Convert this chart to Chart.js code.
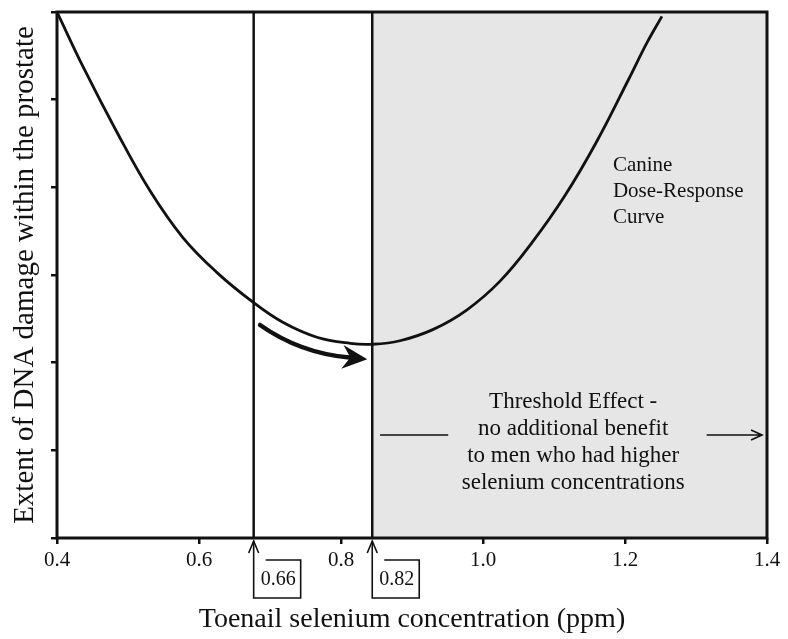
<!DOCTYPE html>
<html lang="en">
<head>
<meta charset="UTF-8">
<title>Canine dose-response curve</title>
<script src="https://cdn.jsdelivr.net/npm/chart.js@4.4.1/dist/chart.umd.min.js"></script>
<style>
  body { margin: 0; background: #fff; }
  .wrap { position: relative; width: 788px; height: 639px; }
</style>
</head>
<body>
<div class="wrap"><canvas id="chart"></canvas></div>
<script>
// curve (x = ppm, y = damage, arbitrary 0-6 units)
const curveX = [0.400, 0.437, 0.485, 0.531, 0.577, 0.625, 0.676, 0.718, 0.766, 0.813, 0.845, 0.883, 0.930, 0.977, 1.024, 1.070, 1.115, 1.160, 1.205, 1.231, 1.252];
const curveY = [6.00, 5.37, 4.62, 3.96, 3.43, 3.03, 2.69, 2.46, 2.29, 2.22, 2.21, 2.25, 2.38, 2.60, 2.93, 3.38, 3.90, 4.52, 5.23, 5.65, 5.95];

const xTickValues = [0.4, 0.6, 0.8, 1.0, 1.2, 1.4];
const yTickValues = [0, 1, 2, 3, 4, 5, 6];

// vertical marker lines and their boxed labels
const markerX = [0.677, 0.844];
const markerLabels = ['0.66', '0.82'];
const shadeFrom = 0.844;

const canineText = ['Canine', 'Dose-Response', 'Curve'];
const thresholdText = ['Threshold Effect -', 'no additional benefit', 'to men who had higher', 'selenium concentrations'];

const SERIF = '"Liberation Serif", "Times New Roman", serif';
const ink = '#111';

// shading, marker lines, frame and the annotations
const overlay = {
  id: 'overlay',
  beforeDatasetsDraw(chart) {
    const { ctx, chartArea: a, scales: { x } } = chart;
    ctx.save();
    const sx = x.getPixelForValue(shadeFrom);
    ctx.fillStyle = '#e6e6e6';
    ctx.fillRect(sx, a.top, a.right - sx, a.bottom - a.top);
    ctx.strokeStyle = ink;
    ctx.lineWidth = 2.5;
    markerX.forEach(v => {
      const px = x.getPixelForValue(v);
      ctx.beginPath();
      ctx.moveTo(px, a.top);
      ctx.lineTo(px, a.bottom);
      ctx.stroke();
    });
    ctx.restore();
  },
  afterDatasetsDraw(chart) {
    const { ctx, chartArea: a, scales: { x, y } } = chart;
    ctx.save();
    ctx.strokeStyle = ink;
    ctx.fillStyle = ink;

    // frame
    ctx.lineWidth = 3;
    ctx.strokeRect(a.left, a.top, a.right - a.left, a.bottom - a.top);

    // arrows up to the axis + open boxes with values
    ctx.lineWidth = 1.6;
    ctx.font = '20px ' + SERIF;
    ctx.textAlign = 'center';
    ctx.textBaseline = 'middle';
    markerX.forEach((v, i) => {
      const px = x.getPixelForValue(v);
      const y0 = a.bottom + 3, y1 = a.bottom + 60, bt = a.bottom + 22, bw = 47;
      ctx.beginPath();
      ctx.moveTo(px, y0);
      ctx.lineTo(px, y1);
      ctx.lineTo(px + bw, y1);
      ctx.lineTo(px + bw, bt);
      ctx.lineTo(px + 12, bt);
      ctx.stroke();
      ctx.beginPath();
      ctx.moveTo(px - 5, y0 + 12);
      ctx.lineTo(px, y0);
      ctx.lineTo(px + 5, y0 + 12);
      ctx.stroke();
      ctx.fillText(markerLabels[i], px + bw / 2 + 1, (bt + y1) / 2 + 1);
    });

    // bold curved arrow below the curve
    const p0 = [x.getPixelForValue(0.686), y.getPixelForValue(2.43)];
    const c = [x.getPixelForValue(0.742), y.getPixelForValue(2.11)];
    const tip = [x.getPixelForValue(0.837), y.getPixelForValue(2.04)];
    let dx = tip[0] - c[0], dy = tip[1] - c[1];
    const len = Math.hypot(dx, dy);
    dx /= len; dy /= len;
    const base = [tip[0] - 22 * dx, tip[1] - 22 * dy];
    ctx.lineWidth = 4.5;
    ctx.lineCap = 'round';
    ctx.beginPath();
    ctx.moveTo(p0[0], p0[1]);
    ctx.quadraticCurveTo(c[0], c[1], base[0] + 4 * dx, base[1] + 4 * dy);
    ctx.stroke();
    ctx.beginPath();
    ctx.moveTo(tip[0], tip[1]);
    ctx.lineTo(base[0] - 3 * dx - 12 * dy, base[1] - 3 * dy + 12 * dx);
    ctx.lineTo(base[0] + 5 * dx, base[1] + 5 * dy);
    ctx.lineTo(base[0] - 3 * dx + 12 * dy, base[1] - 3 * dy - 12 * dx);
    ctx.closePath();
    ctx.fill();
    ctx.lineCap = 'butt';

    // text blocks
    ctx.font = '21px ' + SERIF;
    ctx.textAlign = 'left';
    const cx = x.getPixelForValue(1.183);
    const cy = y.getPixelForValue(4.25);
    canineText.forEach((t, i) => ctx.fillText(t, cx, cy + i * 26));

    ctx.font = '23px ' + SERIF;
    ctx.textAlign = 'center';
    const tx = x.getPixelForValue(1.127);
    const ty = y.getPixelForValue(1.55);
    thresholdText.forEach((t, i) => ctx.fillText(t, tx, ty + i * 27));

    // threshold dash and arrow
    const ly = y.getPixelForValue(1.175);
    ctx.lineWidth = 1.6;
    ctx.beginPath();
    ctx.moveTo(x.getPixelForValue(0.855), ly);
    ctx.lineTo(x.getPixelForValue(0.951), ly);
    const ax0 = x.getPixelForValue(1.315), ax1 = x.getPixelForValue(1.393);
    ctx.moveTo(ax0, ly);
    ctx.lineTo(ax1, ly);
    ctx.moveTo(ax1 - 11, ly - 5);
    ctx.lineTo(ax1, ly);
    ctx.lineTo(ax1 - 11, ly + 5);
    ctx.stroke();

    ctx.restore();
  }
};

new Chart(document.getElementById('chart'), {
  type: 'line',
  data: {
    datasets: [{
      data: curveX.map((v, i) => ({ x: v, y: curveY[i] })),
      borderColor: ink,
      borderWidth: 2.8,
      pointRadius: 0,
      tension: 0.4,
      fill: false
    }]
  },
  options: {
    responsive: true,
    maintainAspectRatio: false,
    animation: false,
    layout: { padding: { top: 12, right: 21, left: 0, bottom: 0 } },
    plugins: { legend: { display: false }, tooltip: { enabled: false } },
    scales: {
      x: {
        type: 'linear',
        min: 0.4,
        max: 1.4,
        afterBuildTicks: s => { s.ticks = xTickValues.map(v => ({ value: v })); },
        afterFit: s => { s.height = 101; },
        ticks: {
          callback: v => v.toFixed(1),
          font: { family: SERIF, size: 21 },
          color: ink,
          padding: 4,
          maxRotation: 0,
          autoSkip: false
        },
        grid: { drawOnChartArea: false, tickLength: 6, color: ink, lineWidth: 2.5 },
        border: { display: false },
        title: {
          display: true,
          text: 'Toenail selenium concentration (ppm)',
          font: { family: SERIF, size: 28 },
          color: ink,
          padding: { top: 0, bottom: 3 }
        }
      },
      y: {
        min: 0,
        max: 6,
        afterBuildTicks: s => { s.ticks = yTickValues.map(v => ({ value: v })); },
        afterFit: s => { s.width = 57; },
        ticks: { display: false },
        grid: { drawOnChartArea: false, tickLength: 6, color: ink, lineWidth: 2.5 },
        border: { display: false },
        title: {
          display: true,
          text: 'Extent of DNA damage within the prostate',
          font: { family: SERIF, size: 29 },
          color: ink,
          padding: { top: 8, bottom: 0 }
        }
      }
    }
  },
  plugins: [overlay]
});
</script>
</body>
</html>
